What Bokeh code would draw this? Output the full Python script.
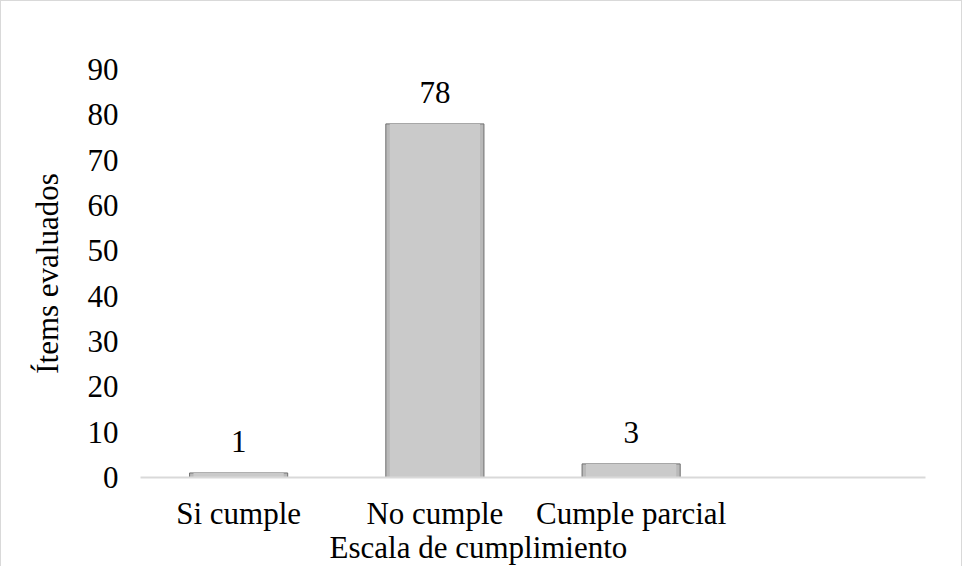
from bokeh.plotting import figure
from bokeh.models import ColumnDataSource, FixedTicker, Range1d, FactorRange, Title
from bokeh.core.properties import value
from bokeh.embed import file_html
from bokeh.resources import INLINE

categories = ["Si cumple", "No cumple", "Cumple parcial", " "]
values = [1, 78, 3, 0]
labels = ["1", "78", "3", ""]
y_ticks = [0, 10, 20, 30, 40, 50, 60, 70, 80, 90]

FONT = "Liberation Serif"
FS = "31px"

bar_cats = categories[:3]
bar_vals = values[:3]
src = ColumnDataSource(dict(cat=bar_cats, val=bar_vals, lab=labels[:3]))

p = figure(x_range=FactorRange(*categories), y_range=Range1d(0, 90),
           width=962, height=566, output_backend="svg", toolbar_location=None,
           min_border_left=139, min_border_right=38, min_border_top=68, min_border_bottom=90)
p.styles = {"border-top": "1px solid #d9d9d9", "border-left": "1px solid #d9d9d9",
            "border-right": "1px solid #d9d9d9"}
p.background_fill_color = "white"
p.border_fill_color = "white"
p.outline_line_color = None
p.xgrid.grid_line_color = None
p.ygrid.grid_line_color = None

# bars with a bevel-like look
p.vbar(x="cat", top="val", width=0.5, source=src, fill_color="#b9b9b9",
       line_color="#6e6e6e", line_width=1)
p.vbar(x="cat", top="val", width=0.46, source=src, fill_color="#cacaca",
       line_color=None)

p.text(x="cat", y="val", text="lab", source=src, text_align="center",
       text_baseline="middle", y_offset=-31, text_font=value(FONT),
       text_font_size=FS, text_color="#000000")

# y axis
p.yaxis.ticker = FixedTicker(ticks=y_ticks)
p.yaxis.axis_line_color = None
p.yaxis.major_tick_line_color = None
p.yaxis.minor_tick_line_color = None
p.yaxis.major_label_text_font = FONT
p.yaxis.major_label_text_font_size = FS
p.yaxis.major_label_text_color = "#000000"
p.yaxis.major_label_standoff = 16
p.yaxis.axis_label = "Ítems evaluados"
p.yaxis.axis_label_text_font = FONT
p.yaxis.axis_label_text_font_size = FS
p.yaxis.axis_label_text_font_style = "normal"
p.yaxis.axis_label_text_color = "#000000"
p.yaxis.axis_label_standoff = 20

# x axis
p.xaxis.axis_line_color = "#d9d9d9"
p.xaxis.axis_line_width = 2
p.xaxis.major_tick_line_color = None
p.xaxis.minor_tick_line_color = None
p.xaxis.major_label_text_font = FONT
p.xaxis.major_label_text_font_size = FS
p.xaxis.major_label_text_color = "#000000"
p.xaxis.major_label_standoff = 12

p.add_layout(Title(text="Escala de cumplimiento", align="left", offset=189,
                   text_font=FONT, text_font_size=FS, text_font_style="normal",
                   text_color="#000000", standoff=-12), "below")

open("out.html", "w").write(file_html(p, INLINE))
